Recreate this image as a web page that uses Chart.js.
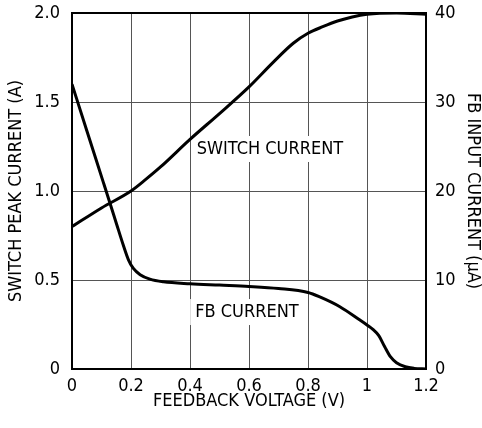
<!DOCTYPE html>
<html>
<head>
<meta charset="utf-8">
<script src="https://cdn.jsdelivr.net/npm/chart.js@4.4.1/dist/chart.umd.min.js"></script>
<style>
    html, body { margin: 0; padding: 0; background: #fff; }
    #wrap { width: 482px; height: 428px; }
</style>
</head>
<body>
<div id="wrap"><canvas id="chart" width="482" height="428"></canvas></div>
<script>
// Données
const switchVoltage = [0, 0.1, 0.2, 0.25, 0.3, 0.4, 0.5, 0.6, 0.68, 0.75, 0.8, 0.85, 0.9, 0.95, 1.0, 1.1, 1.2];
const switchCurrent = [0.80, 0.905, 1.00, 1.065, 1.135, 1.29, 1.435, 1.585, 1.72, 1.83, 1.886, 1.923, 1.955, 1.978, 1.993, 2.0, 1.993];

const fbVoltage = [0, 0.05, 0.106, 0.131, 0.151, 0.174, 0.191, 0.208, 0.231, 0.264, 0.31, 0.4, 0.5, 0.6, 0.7, 0.8, 0.84, 0.908, 0.976, 1.0, 1.02, 1.04, 1.06, 1.08, 1.1, 1.13, 1.16, 1.2];
const fbCurrent = [32, 26.8, 21.0, 18.4, 16.3, 13.9, 12.3, 11.3, 10.6, 10.1, 9.8, 9.58, 9.43, 9.28, 9.05, 8.6, 8.1, 7.0, 5.5, 4.95, 4.45, 3.75, 2.5, 1.35, 0.7, 0.25, 0.07, 0];

const leftTickLabels = ['0', '0.5', '1.0', '1.5', '2.0'];
const rightTickLabels = ['0', '10', '20', '30', '40'];
const xTickLabels = ['0', '0.2', '0.4', '0.6', '0.8', '1', '1.2'];

// Étiquettes des courbes (coordonnées en unités de données)
const curveLabels = [
    { text: 'SWITCH CURRENT', x: 0.671, y: 1.236 },
    { text: 'FB CURRENT', x: 0.593, y: 0.32 }
];

const FONT = "'Liberation Sans Narrow', 'DejaVu Sans Condensed', 'Roboto Condensed', sans-serif";

const toPoints = (xs, ys) => xs.map((x, i) => ({ x: x, y: ys[i] }));

// Pas de marge automatique autour des axes
const noPad = s => {
    s.paddingTop = 0;
    s.paddingBottom = 0;
    s.paddingLeft = 0;
    s.paddingRight = 0;
};

// Plugin pour les étiquettes avec fond blanc
const labelPlugin = {
    id: 'curveLabels',
    beforeDatasetsDraw(chart) {
        const ctx = chart.ctx;
        const xs = chart.scales.x;
        const ys = chart.scales.y;
        ctx.save();
        ctx.font = '18px ' + FONT;
        ctx.textAlign = 'center';
        ctx.textBaseline = 'middle';
        curveLabels.forEach(l => {
            const px = xs.getPixelForValue(l.x);
            const py = ys.getPixelForValue(l.y);
            const w = ctx.measureText(l.text).width;
            ctx.fillStyle = '#fff';
            ctx.fillRect(px - w / 2 - 5, py - 13, w + 10, 26);
            ctx.fillStyle = '#000';
            ctx.fillText(l.text, px, py);
        });
        ctx.restore();
    }
};

const ctx = document.getElementById('chart').getContext('2d');
new Chart(ctx, {
    type: 'line',
    data: {
        datasets: [
            {
                label: 'Switch current',
                data: toPoints(switchVoltage, switchCurrent),
                yAxisID: 'y',
                borderColor: '#000',
                borderWidth: 3,
                pointRadius: 0,
                fill: false,
                cubicInterpolationMode: 'monotone'
            },
            {
                label: 'FB current',
                data: toPoints(fbVoltage, fbCurrent),
                yAxisID: 'y2',
                borderColor: '#000',
                borderWidth: 3,
                pointRadius: 0,
                fill: false,
                cubicInterpolationMode: 'monotone'
            }
        ]
    },
    options: {
        responsive: false,
        animation: false,
        layout: { padding: { top: 13, left: 0, right: 0, bottom: 0 } },
        plugins: {
            legend: { display: false },
            tooltip: { enabled: false }
        },
        scales: {
            x: {
                type: 'linear',
                min: 0,
                max: 1.2,
                afterFit: s => { s.height = 59; noPad(s); },
                afterBuildTicks: s => { s.ticks = xTickLabels.map((t, i) => ({ value: i * 0.2 })); },
                ticks: {
                    padding: 7,
                    color: '#000',
                    font: { family: FONT, size: 18 },
                    maxRotation: 0,
                    callback: (v, i) => xTickLabels[i]
                },
                grid: { color: '#555', lineWidth: 1, drawTicks: false },
                border: { color: '#000', width: 2 },
                title: {
                    display: true,
                    text: 'FEEDBACK VOLTAGE (V)',
                    color: '#000',
                    font: { family: FONT, size: 18, lineHeight: 1 },
                    padding: { top: 0, bottom: 18 }
                }
            },
            y: {
                position: 'left',
                min: 0,
                max: 2,
                afterFit: s => { s.width = 72; noPad(s); },
                ticks: {
                    stepSize: 0.5,
                    padding: 12,
                    color: '#000',
                    font: { family: FONT, size: 18 },
                    callback: (v, i) => leftTickLabels[i]
                },
                grid: {
                    drawTicks: false,
                    lineWidth: c => (c.index === 4 ? 2 : 1),
                    color: c => (c.index === 4 ? '#000' : '#555')
                },
                border: { color: '#000', width: 2 },
                title: {
                    display: true,
                    text: 'SWITCH PEAK CURRENT (A)',
                    color: '#000',
                    font: { family: FONT, size: 18, lineHeight: 1 },
                    padding: { top: 7, bottom: 0 }
                }
            },
            y2: {
                position: 'right',
                min: 0,
                max: 40,
                afterFit: s => { s.width = 56; noPad(s); },
                ticks: {
                    stepSize: 10,
                    padding: 9,
                    color: '#000',
                    font: { family: FONT, size: 18 },
                    callback: (v, i) => rightTickLabels[i]
                },
                grid: { display: false, drawTicks: false },
                border: { color: '#000', width: 2 },
                title: {
                    display: true,
                    text: 'FB INPUT CURRENT (µA)',
                    color: '#000',
                    font: { family: FONT, size: 18, lineHeight: 1 },
                    padding: { top: 0, bottom: 0 }
                }
            }
        }
    },
    plugins: [labelPlugin]
});
</script>
</body>
</html>
